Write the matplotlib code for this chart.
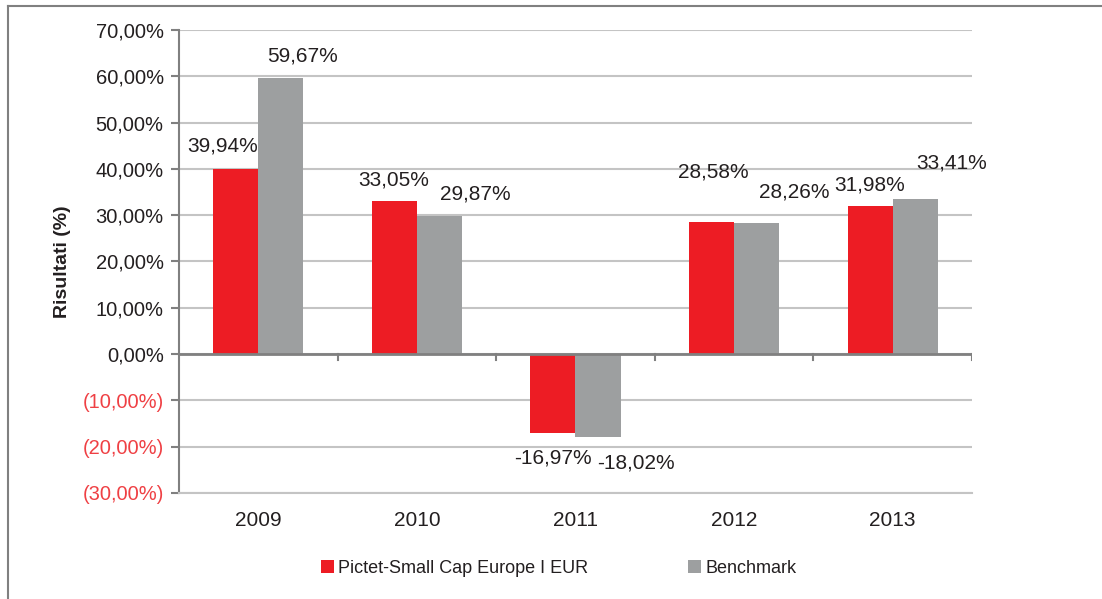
import matplotlib.pyplot as plt
from matplotlib.lines import Line2D
import numpy as np

plt.rcParams['font.family'] = ['Liberation Sans', 'DejaVu Sans']

years = ['2009', '2010', '2011', '2012', '2013']
fund = [39.94, 33.05, -16.97, 28.58, 31.98]
bench = [59.67, 29.87, -18.02, 28.26, 33.41]
fund_name = 'Pictet-Small Cap Europe I EUR'
bench_name = 'Benchmark'

# label nudges in pixels (dx, dy) so the numbers do not collide
fund_off = [(-13, 23), (-1, 21), (0, -25), (2, 50), (-1, 21)]
bench_off = [(22, 22), (36, 22), (38, -26), (38, 31), (36, 36)]

RED = '#ed1c24'
GREY = '#9d9fa0'
DARK = '#808080'
GRID = '#c4c4c4'
TXT = '#231f20'


def fmt(v):
    s = '%.2f' % abs(v)
    s = s.replace('.', ',')
    if v < 0:
        return '(%s%%)' % s
    return '%s%%' % s


fig = plt.figure(figsize=(11.02, 5.99), dpi=100)
ax = fig.add_axes([0.1624, 0.177, 0.7196, 0.7731])

x = np.arange(len(years))
w = 0.284
ax.bar(x - w / 2, fund, w, color=RED, label=fund_name, zorder=3)
ax.bar(x + w / 2, bench, w, color=GREY, label=bench_name, zorder=3)

for i in range(len(years)):
    for val, off, xc in [(fund[i], fund_off[i], x[i] - w / 2),
                         (bench[i], bench_off[i], x[i] + w / 2)]:
        txt = ('%.2f%%' % val).replace('.', ',')
        ax.annotate(txt, (xc, val), xytext=off, textcoords='offset pixels',
                    ha='center', va='center', fontsize=15, color=TXT)

ax.set_xlim(-0.5, len(years) - 0.5)
ax.set_ylim(-30, 70)
ticks = np.arange(-30, 71, 10)
ax.set_yticks(ticks)
ax.set_yticklabels([fmt(t) for t in ticks])
for lab, t in zip(ax.get_yticklabels(), ticks):
    lab.set_color('#ef4044' if t < 0 else TXT)
ax.tick_params(axis='y', length=6, width=1.5, color=DARK, labelsize=14.5, pad=5)

ax.set_xticks(x)
ax.set_xticklabels(years)
ax.tick_params(axis='x', length=0, labelsize=15, pad=13, labelcolor=TXT)

ax.grid(axis='y', color=GRID, linewidth=1.5, zorder=0)
for s in ['top', 'right']:
    ax.spines[s].set_visible(False)
ax.spines['left'].set_color(DARK)
ax.spines['left'].set_linewidth(1.5)
ax.spines['bottom'].set_color(GRID)
ax.spines['bottom'].set_linewidth(1.5)

# zero line with small category separators hanging below it
ax.axhline(0, color=DARK, linewidth=2, zorder=4)
for b in np.arange(-0.5, len(years), 1.0)[1:]:
    ax.plot([b, b], [0, -1.3], color=DARK, linewidth=1.5, zorder=4)

ax.set_ylabel('Risultati (%)', fontsize=14, fontweight='bold', labelpad=8,
              color=TXT)

handles, labels = ax.get_legend_handles_labels()
fig.legend(handles, labels, loc='center', bbox_to_anchor=(0.507, 0.051), ncol=2,
           frameon=False, fontsize=13, handlelength=0.7, handleheight=0.7,
           handletextpad=0.25, columnspacing=5.5, labelcolor=TXT)

# outer frame on the left and top edges
fig.add_artist(Line2D([0.0077, 0.0077], [0, 0.99], color=DARK, linewidth=1.5))
fig.add_artist(Line2D([0.0077, 1.0], [0.99, 0.99], color=DARK, linewidth=1.5))

fig.savefig('out.png', dpi=100)
